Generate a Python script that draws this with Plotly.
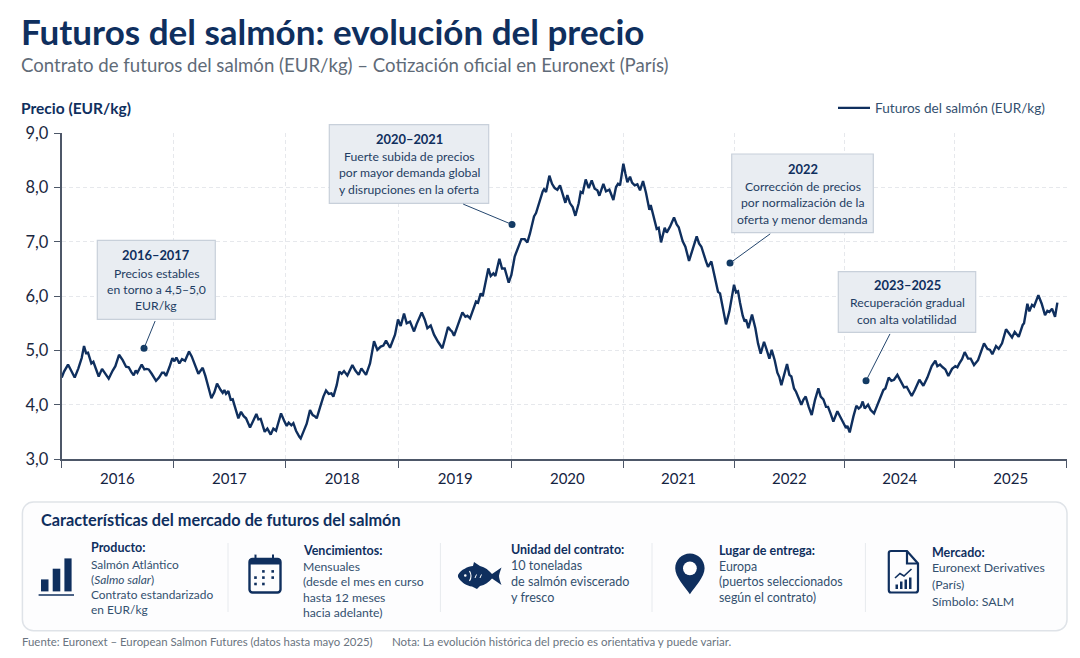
import re
import plotly.graph_objects as go

W, H = 1080, 658
NAVY = "#0f2f5e"
BODY = "#33506f"
FONT = "Lato"

# Price history: trading session index and closing price in EUR/kg
sesiones = [
    0, 7, 19, 27, 39, 50, 60, 67, 73, 79, 89, 95, 103, 111, 121, 130, 141, 153, 161, 172,
    183, 193, 201, 209, 216, 222, 227, 240, 248, 255, 261, 270, 283, 292, 301, 307, 313, 323, 332, 338,
    344, 353, 361, 370, 382, 390, 400, 410, 416, 423, 431, 440, 449, 458, 466, 477, 483, 488, 493, 500,
    507, 513, 521, 530, 538, 546, 553, 565, 575, 584, 590, 597, 609, 617, 627, 635, 643, 658, 667, 675,
    681, 689, 695, 703, 713, 717, 725, 735, 745, 753, 759, 765, 775, 785, 793, 801, 809, 815, 825, 833,
    840, 847, 857, 872, 881, 891, 899, 907, 913, 925, 937, 947, 957, 965, 973, 985, 1000, 1009, 1017, 1027,
    1035, 1045, 1057, 1065, 1080, 1089, 1097, 1107, 1117, 1129, 1142, 1150, 1159, 1167, 1171, 1177, 1189, 1202, 1211, 1217,
    1225, 1235, 1243, 1249, 1257, 1263, 1270, 1280, 1287, 1295, 1301, 1313, 1321, 1329, 1341, 1349, 1359, 1369, 1379, 1389,
    1397, 1405, 1417, 1423, 1433, 1443, 1447, 1453, 1463, 1471, 1479, 1487, 1495, 1503, 1511, 1517, 1525, 1533, 1541, 1551,
    1557, 1563, 1572, 1581, 1590, 1599, 1607, 1613, 1625, 1633, 1643, 1647, 1655, 1663, 1669, 1675, 1685, 1691, 1697, 1705,
    1711, 1719, 1727, 1735, 1744, 1753, 1763, 1767, 1775, 1785, 1791, 1798, 1809, 1815, 1825, 1837, 1845, 1851, 1863, 1871,
    1882, 1892, 1905, 1912, 1919, 1933, 1939, 1949, 1957, 1969, 1975, 1983, 1993, 2003, 2009, 2017, 2023, 2029, 2035, 2043,
    2049, 2053, 2060, 2071, 2081, 2089, 2097, 2107, 2115, 2123, 2130, 2139, 2147, 2153, 2159, 2167, 2176, 2183, 2189, 2197,
    2203, 2211, 2219, 2225, 2232, 2241, 2250, 2260, 2270, 2277, 2285, 2293, 2299, 2307, 2315, 2327, 2337, 2347, 2353, 2357,
    2364, 2375, 2384, 2391, 2397, 2403, 2409, 2419, 2427, 2437, 2447, 2457, 2465, 2471, 2481, 2489, 2497, 2507, 2517, 2527,
    2535, 2550, 2560, 2573, 2585, 2597, 2610, 2621, 2627, 2635, 2643, 2651, 2660, 2671, 2681, 2687, 2693, 2701, 2709, 2719,
    2727, 2737, 2749, 2767, 2777, 2785, 2792, 2803, 2811, 2821, 2833, 2841, 2851, 2859, 2871, 2883, 2887, 2897, 2903, 2911,
    2917, 2930, 2940, 2950, 2957, 2963, 2971, 2980, 2987,
]
precio = [
    4.50, 4.61, 4.74, 4.65, 4.50, 4.67, 4.86, 5.08, 4.95, 4.96, 4.76, 4.79, 4.65, 4.52, 4.66, 4.58, 4.48, 4.63, 4.71, 4.92,
    4.82, 4.70, 4.69, 4.60, 4.54, 4.63, 4.59, 4.74, 4.65, 4.66, 4.65, 4.57, 4.44, 4.50, 4.59, 4.59, 4.53, 4.69, 4.86, 4.80,
    4.87, 4.76, 4.84, 4.81, 4.98, 4.89, 4.71, 4.57, 4.62, 4.68, 4.53, 4.32, 4.12, 4.23, 4.39, 4.27, 4.22, 4.27, 4.20, 4.25,
    4.09, 4.10, 3.92, 3.75, 3.87, 3.79, 3.75, 3.58, 3.71, 3.83, 3.73, 3.74, 3.50, 3.56, 3.45, 3.56, 3.52, 3.84, 3.71, 3.61,
    3.67, 3.62, 3.66, 3.52, 3.41, 3.38, 3.50, 3.65, 3.90, 3.81, 3.79, 3.75, 3.95, 4.15, 4.26, 4.20, 4.21, 4.15, 4.36, 4.61,
    4.57, 4.62, 4.54, 4.73, 4.63, 4.55, 4.67, 4.61, 4.55, 4.76, 5.17, 5.01, 5.07, 5.09, 5.18, 5.05, 5.29, 5.57, 5.45, 5.68,
    5.50, 5.53, 5.35, 5.49, 5.70, 5.57, 5.41, 5.46, 5.29, 5.16, 5.04, 5.22, 5.43, 5.37, 5.35, 5.27, 5.46, 5.70, 5.62, 5.64,
    5.59, 5.78, 5.90, 5.88, 6.05, 6.00, 6.19, 6.51, 6.37, 6.42, 6.37, 6.69, 6.51, 6.51, 6.25, 6.39, 6.73, 6.91, 7.05, 7.05,
    6.99, 7.16, 7.47, 7.53, 7.74, 7.93, 7.97, 7.92, 8.22, 8.07, 7.99, 7.96, 8.04, 7.90, 7.72, 7.86, 7.71, 7.64, 7.48, 7.71,
    7.92, 7.90, 8.15, 7.99, 8.13, 7.98, 7.95, 7.85, 8.07, 7.93, 7.96, 7.90, 7.77, 8.01, 8.07, 8.04, 8.44, 8.26, 8.10, 8.20,
    8.09, 8.04, 8.06, 7.95, 8.12, 7.90, 7.59, 7.68, 7.50, 7.24, 7.26, 6.99, 7.26, 7.17, 7.28, 7.45, 7.32, 7.27, 7.01, 6.91,
    6.65, 6.85, 7.10, 6.97, 6.91, 6.64, 6.54, 6.64, 6.39, 6.08, 6.05, 5.81, 5.48, 5.72, 5.93, 6.21, 6.07, 6.09, 5.88, 5.64,
    5.53, 5.57, 5.41, 5.66, 5.41, 5.13, 4.94, 5.16, 5.01, 4.85, 5.01, 4.82, 4.59, 4.51, 4.36, 4.55, 4.75, 4.55, 4.52, 4.30,
    4.24, 4.12, 4.00, 4.09, 4.15, 3.96, 3.81, 4.09, 4.30, 4.15, 4.10, 3.96, 3.96, 3.83, 3.69, 3.88, 3.77, 3.66, 3.57, 3.61,
    3.49, 3.78, 3.98, 3.93, 3.96, 4.06, 3.93, 4.00, 3.90, 3.84, 4.00, 4.18, 4.27, 4.30, 4.50, 4.44, 4.46, 4.55, 4.44, 4.32,
    4.33, 4.16, 4.28, 4.46, 4.35, 4.50, 4.71, 4.81, 4.71, 4.74, 4.69, 4.65, 4.53, 4.66, 4.71, 4.69, 4.76, 4.84, 4.97, 4.85,
    4.85, 4.73, 4.82, 5.13, 5.03, 5.01, 4.93, 5.08, 5.03, 5.13, 5.39, 5.33, 5.24, 5.34, 5.25, 5.47, 5.50, 5.86, 5.72, 5.84,
    5.81, 6.02, 5.86, 5.65, 5.73, 5.71, 5.77, 5.62, 5.88,
]
assert len(sesiones) == len(precio)

# Period boundaries on the time axis and the label centred in each period
limites = [0, 334, 672, 1011, 1350, 1684, 2017, 2349, 2679, 3015]
etiquetas = ["2016", "2017", "2018", "2019", "2020", "2021", "2022", "2024", "2025"]
centros = [(a + b) / 2 for a, b in zip(limites, limites[1:])]

# Callouts: anchor on the price scale, box extent, leader offset, text rows
nota_sesion = [247, 1351, 2005, 2413]
nota_precio = [5.04, 7.32, 6.61, 4.44]
nota_offset = [(11.7, -28.7), (-50.3, -21), (41.7, -30.3), (24.7, -48.4)]
nota_caja = [(97.3, 240.3, 215.3, 319.3), (329.3, 124.7, 488.7, 203.3),
             (731.7, 154, 873.3, 232.7), (838.3, 271.7, 975.7, 332.3)]
nota_texto = [
    [("2016–2017", 255), ("Precios estables", 273), ("en torno a 4,5–5,0", 289.3), ("EUR/kg", 305.7)],
    [("2020–2021", 138.7), ("Fuerte subida de precios", 156.7), ("por mayor demanda global", 172.7),
     ("y disrupciones en la oferta", 189)],
    [("2022", 168.7), ("Corrección de precios", 186.7), ("por normalización de la", 202.7),
     ("oferta y menor demanda", 219)],
    [("2023–2025", 285), ("Recuperación gradual", 302.7), ("con alta volatilidad", 319)],
]

# Market facts panel: column x, body text size, heading row and body rows
panel = [
    (91, 11.9, ("Producto:", 547.5), [("Salmón Atlántico", 564), ("(<i>Salmo salar</i>)", 579),
                                      ("Contrato estandarizado", 594), ("en EUR/kg", 609.5)]),
    (303, 12.2, ("Vencimientos:", 550), [("Mensuales", 566), ("(desde el mes en curso", 581.5),
                                         ("hasta 12 meses", 597), ("hacia adelante)", 612.5)]),
    (511, 12.6, ("Unidad del contrato:", 549), [("10 toneladas", 565.5), ("de salmón eviscerado", 581.5),
                                                ("y fresco", 597)]),
    (719.7, 12.4, ("Lugar de entrega:", 550.5), [("Europa", 566.5), ("(puertos seleccionados", 581.5),
                                                 ("según el contrato)", 597.5)]),
    (932.6, 12.3, ("Mercado:", 552.5), [("Euronext Derivatives", 567.5), ("(París)", 584), ("Símbolo: SALM", 601.5)]),
]
divisores = [228, 440.4, 652, 865.4]


def px(x):
    return x / W


def py(y):
    return 1 - y / H


def ruta(d):
    """Turn an SVG path written in page pixels into figure-fraction coordinates."""
    i = [0]

    def conv(m):
        v = float(m.group())
        out = px(v) if i[0] % 2 == 0 else py(v)
        i[0] += 1
        return f"{out:.5f}"

    return re.sub(r"-?\d+\.?\d*", conv, d)


def texto(x, y, s, size, color, bold=False, anchor="left"):
    # Left-aligned labels carry about a pixel of inner padding
    x = x - 1.3 if anchor == "left" else x
    return dict(xref="paper", yref="paper", x=px(x), y=py(y), xanchor=anchor, yanchor="middle",
                showarrow=False, borderpad=0,
                text=f"<b>{s}</b>" if bold else s,
                font=dict(family=FONT, size=size, color=color))


def rect(x0, y0, x1, y1, fill, line=None, lw=0):
    return dict(type="rect", xref="paper", yref="paper", x0=px(x0), y0=py(y0), x1=px(x1), y1=py(y1),
                fillcolor=fill, line=dict(color=line or fill, width=lw), layer="above")


def circulo(cx, cy, r, fill):
    return dict(type="circle", xref="paper", yref="paper", x0=px(cx - r), x1=px(cx + r),
                y0=py(cy - r), y1=py(cy + r), fillcolor=fill, line=dict(width=0), layer="above")


def trazo(d, fill=None, color=NAVY, lw=0):
    return dict(type="path", xref="paper", yref="paper", path=ruta(d), layer="above",
                fillcolor=fill or "rgba(0,0,0,0)", line=dict(color=color, width=lw))


def redondeado(x0, y0, x1, y1, r):
    k = r * 0.45
    return (f"M{x0 + r},{y0} L{x1 - r},{y0} C{x1 - k},{y0} {x1},{y0 + k} {x1},{y0 + r} "
            f"L{x1},{y1 - r} C{x1},{y1 - k} {x1 - k},{y1} {x1 - r},{y1} "
            f"L{x0 + r},{y1} C{x0 + k},{y1} {x0},{y1 - k} {x0},{y1 - r} "
            f"L{x0},{y0 + r} C{x0},{y0 + k} {x0 + k},{y0} {x0 + r},{y0} Z")


fig = go.Figure()
fig.add_trace(go.Scatter(x=sesiones, y=precio, mode="lines", name="Futuros del salmón (EUR/kg)",
                         line=dict(color=NAVY, width=2.4), hoverinfo="skip"))
fig.add_trace(go.Scatter(x=nota_sesion, y=nota_precio, mode="markers", showlegend=False,
                         marker=dict(color="#123a63", size=7), hoverinfo="skip"))

shapes, anots = [], []

# Callout boxes, their leaders and their text
for caja, filas, xs, ys, (ax, ay) in zip(nota_caja, nota_texto, nota_sesion, nota_precio, nota_offset):
    shapes.append(rect(*caja, "#e9edf2", "#c8d0da", 1.2))
    cx = (caja[0] + caja[2]) / 2
    for i, (s, y) in enumerate(filas):
        anots.append(texto(cx, y, s, 12.9 if i == 0 else 12.2, NAVY if i == 0 else "#1f3d63", i == 0, "center"))
    anots.append(dict(x=xs, y=ys, xref="x", yref="y", ax=ax, ay=ay, axref="pixel", ayref="pixel", text="",
                      showarrow=True, arrowhead=0, arrowwidth=1, arrowcolor="#24466e"))

# Headings and footer
anots += [
    texto(21, 31, "Futuros del salmón: evolución del precio", 35, NAVY, True),
    texto(21, 65, "Contrato de futuros del salmón (EUR/kg) – Cotización oficial en Euronext (París)", 18.6, "#5f6b78"),
    texto(21, 108, "Precio (EUR/kg)", 15.5, NAVY, True),
    texto(41, 519.5, "Características del mercado de futuros del salmón", 16.3, NAVY, True),
    texto(22, 641.5, "Fuente: Euronext – European Salmon Futures (datos hasta mayo 2025)", 11.4, "#6a7480"),
    texto(392, 641.5, "Nota: La evolución histórica del precio es orientativa y puede variar.", 11.5, "#6a7480"),
]

# Facts panel frame, separators and columns
shapes.append(trazo(redondeado(22.4, 502, 1067, 630.7, 11), "#fdfdfe", "#dfe3e8", 1.5))
for x in divisores:
    shapes.append(dict(type="line", xref="paper", yref="paper", x0=px(x), x1=px(x), y0=py(543), y1=py(612),
                       line=dict(color="#e7eaee", width=1), layer="above"))
for x, cuerpo, (cab, ycab), filas in panel:
    anots.append(texto(x, ycab, cab, 12.5, NAVY, True))
    for s, y in filas:
        anots.append(texto(x, y, s, cuerpo, BODY))

# Bar chart icon
shapes += [rect(41, 579.4, 48.5, 591.4, NAVY), rect(52.7, 568.7, 60.3, 591.4, NAVY),
           rect(64.4, 558.4, 71.6, 591.4, NAVY), rect(38.6, 594.2, 74, 595.8, NAVY)]

# Calendar icon
shapes.append(trazo(redondeado(249.5, 559, 280.5, 592.5, 3), None, NAVY, 2.4))
shapes.append(rect(249.5, 559, 280.5, 564.5, NAVY))
shapes += [rect(254.5, 554.6, 256.5, 560.5, NAVY), rect(272, 554.6, 274, 560.5, NAVY)]
for cx, cy in [(263.4, 571.4), (272.7, 571.4), (255.5, 577.6), (263.4, 577.6), (272.7, 577.6),
               (255.5, 584), (263.4, 584)]:
    shapes.append(rect(cx - 1.3, cy - 1.3, cx + 1.3, cy + 1.3, NAVY))

# Fish icon
shapes.append(trazo("M458,575 C461,569.5 468,566.5 473,566 L474,562 L480,566 C485,567 489,570.5 492,574 "
                    "L501.5,567.5 C500,572 499,575 499,576 C499,578 500,581 501.5,585 L492,578.5 "
                    "C489,582 485,585 480,586 L477,589 L472,586.5 C467,586 461,582.5 458,577 Z", NAVY))
shapes.append(circulo(465.3, 575.5, 1.3, "white"))
shapes.append(trazo("M469.5,571 Q472.5,576 469.5,581", None, "white", 1.1))
shapes.append(trazo("M475,578 L476.5,574.5", None, "white", 1))
shapes.append(trazo("M480,578 L481.5,574.5", None, "white", 1))

# Location pin icon
shapes.append(trazo("M689.9,553.6 C698,553.6 704.6,560.2 704.6,568.3 C704.6,577 695,587 689.9,594.2 "
                    "C684.8,587 675.2,577 675.2,568.3 C675.2,560.2 681.8,553.6 689.9,553.6 Z", NAVY))
shapes.append(circulo(689.9, 568.3, 6.9, "white"))

# Document with trend icon
shapes.append(trazo("M891,551 L907,551 L918,563.5 L918,590 C918,591.5 917,592.5 915.5,592.5 L891,592.5 "
                    "C889.5,592.5 888.8,591.5 888.8,590 L888.8,553 C888.8,552 889.5,551 891,551 Z", None, NAVY, 2.2))
shapes.append(trazo("M907,551 L907,563.5 L918,563.5", None, NAVY, 2.2))
shapes.append(trazo("M895,578 L900,573.5 L904,576 L911.5,569", None, NAVY, 1.6))
shapes += [rect(895.5, 584.5, 898, 589, NAVY), rect(900, 581.5, 902.5, 589, NAVY),
           rect(904.5, 579.5, 907, 589, NAVY), rect(909, 577.5, 911.5, 589, NAVY)]

GRID = "#e6e8ec"
AXIS = "#4d5768"
fig.update_layout(
    width=W, height=H, margin=dict(l=0, r=0, t=0, b=0, autoexpand=False), autosize=False,
    paper_bgcolor="white", plot_bgcolor="white",
    separators=",.",
    font=dict(family=FONT),
    showlegend=True,
    legend=dict(x=px(833), y=py(108), xanchor="left", yanchor="middle", bgcolor="rgba(0,0,0,0)",
                font=dict(family=FONT, size=13.6, color="#33506f"), itemwidth=32),
    shapes=shapes,
    annotations=anots,
    xaxis=dict(
        domain=[px(61.7), px(1066.7)], range=[0, 3015],
        tickmode="array", tickvals=centros, ticktext=etiquetas, ticks="", showgrid=False,
        tickfont=dict(family=FONT, size=15, color="#14233f"), ticklabelstandoff=5,
        showline=True, linecolor=AXIS, linewidth=2, zeroline=False,
        minor=dict(tickmode="array", tickvals=limites, ticks="outside", ticklen=7, tickwidth=1.4,
                   tickcolor=AXIS, showgrid=True, gridcolor=GRID, griddash="4px,3px", gridwidth=1),
    ),
    yaxis=dict(
        domain=[py(459), py(133.3)], range=[3, 9], dtick=1, tickformat=".1f",
        ticks="outside", ticklen=6, tickwidth=1.4, tickcolor=AXIS, ticklabelstandoff=2,
        tickfont=dict(family=FONT, size=16.5, color="#1a2740"),
        showline=True, linecolor=AXIS, linewidth=2, zeroline=False,
        showgrid=True, gridcolor=GRID, griddash="4px,3px", gridwidth=1,
    ),
)

fig.write_html("out.html")
